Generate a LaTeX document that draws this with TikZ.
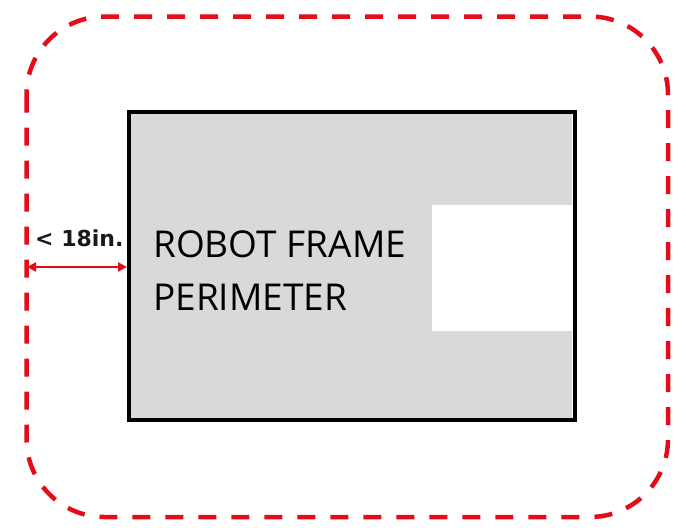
\documentclass[tikz,border=0pt]{standalone}
\usepackage{fontspec}
\setmainfont{Open Sans}
\newfontfamily\dimfont{DejaVu Sans}
\usepackage{tikz}
\usetikzlibrary{arrows.meta, calc}
\definecolor{limitred}{RGB}{228,12,24}
\definecolor{framegray}{RGB}{217,217,217}

\begin{document}
\begin{tikzpicture}[x=1pt, y=-1pt]
\useasboundingbox (0,0) rectangle (686,530);
\fill[framegray] (129,112) rectangle (572,420);
\fill[white] (432,205) rectangle (573,331);
\draw[line width=4pt] (129,112) rectangle (575,420);
\draw[limitred, line width=4.5pt, dash pattern=on 18pt off 15pt, rounded corners=78pt] (26.5,16.5) rectangle (668,517);
\coordinate (limit) at (27,267);
\coordinate (frame) at (127,267);
\draw[limitred, line width=2.6pt, {Triangle[length=9pt, width=9pt]}-{Triangle[length=9pt, width=9pt]}] (limit)--(frame);
\path
(35,246) node[anchor=base west, inner sep=0pt, text=black!90, font=\dimfont\bfseries\fontsize{22}{24}\selectfont] (gap) {<\ 18in.};
\path
(153,310) node[anchor=base west, inner sep=0pt, align=left, font=\fontsize{37}{53}\selectfont] (label) {ROBOT FRAME\\PERIMETER};
\end{tikzpicture}
\end{document}
